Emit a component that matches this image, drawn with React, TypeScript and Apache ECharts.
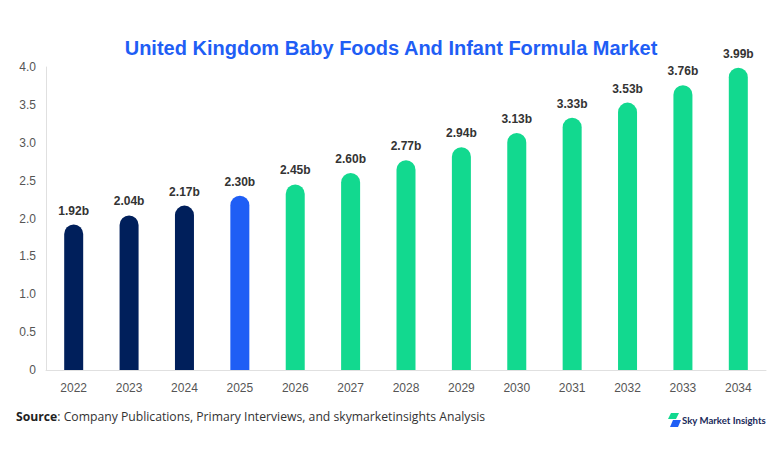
import React, { useEffect, useRef } from "react";
import * as echarts from "echarts";

const years = ["2022", "2023", "2024", "2025", "2026", "2027", "2028", "2029", "2030", "2031", "2032", "2033", "2034"];
const values = [1.92, 2.04, 2.17, 2.3, 2.45, 2.6, 2.77, 2.94, 3.13, 3.33, 3.53, 3.76, 3.99];
const barColors = ["#001f5b", "#001f5b", "#001f5b", "#1f5ef5", "#12d98f", "#12d98f", "#12d98f", "#12d98f", "#12d98f", "#12d98f", "#12d98f", "#12d98f", "#12d98f"];
const titleText = "United Kingdom Baby Foods And Infant Formula Market";
const sourceLabel = "Source";
const sourceText = ": Company Publications, Primary Interviews, and skymarketinsights Analysis";
const brandText = "Sky Market Insights";

export default function App() {
  const ref = useRef<HTMLDivElement>(null);
  useEffect(() => {
    if (!ref.current) return;
    const chart = echarts.init(ref.current, null, { renderer: "svg" });
    chart.setOption({
      animation: false,
      backgroundColor: "#ffffff",
      title: {
        text: titleText,
        left: "center",
        top: 33,
        textStyle: { fontFamily: "Arial, Liberation Sans, sans-serif", fontWeight: "bold", fontSize: 20, color: "#1f5ef5" },
      },
      grid: { left: 46, right: 16, top: 67, bottom: 84 },
      xAxis: {
        type: "category",
        data: years,
        axisLine: { lineStyle: { color: "#e0e0e0" } },
        axisTick: { show: false },
        axisLabel: { color: "#555", fontSize: 12, margin: 12, fontFamily: "Arial, Liberation Sans, sans-serif" },
      },
      yAxis: {
        type: "value",
        min: 0,
        max: 4,
        interval: 0.5,
        axisLine: { show: true, lineStyle: { color: "#e0e0e0" } },
        axisTick: { show: false },
        splitLine: { show: false },
        axisLabel: {
          color: "#555",
          fontSize: 12,
          margin: 10,
          fontFamily: "Arial, Liberation Sans, sans-serif",
          formatter: (v: number) => (v === 0 ? "0" : v.toFixed(1)),
        },
      },
      series: [
        {
          type: "bar",
          barWidth: 19,
          data: values.map((v, i) => ({ value: v, itemStyle: { color: barColors[i] } })),
          itemStyle: { borderRadius: [10, 10, 0, 0] },
          label: {
            show: true,
            position: "top",
            distance: 8,
            fontSize: 12,
            fontWeight: "bold",
            color: "#333",
            fontFamily: "Arial, Liberation Sans, sans-serif",
            formatter: (p: any) => p.value.toFixed(2) + "b",
          },
        },
      ],
      graphic: [
        {
          type: "text",
          left: 16,
          top: 410,
          style: {
            rich: {
              b: { fontWeight: "bold", fontSize: 12.2, fill: "#222", fontFamily: "Open Sans, Noto Sans, sans-serif" },
              n: { fontSize: 12.2, fill: "#333", fontFamily: "Open Sans, Noto Sans, sans-serif" },
            },
            text: "{b|" + sourceLabel + "}{n|" + sourceText + "}",
          },
        },
        {
          type: "polygon",
          shape: { points: [[671, 413], [679, 413], [676, 419], [668, 419]] },
          style: { fill: "#12d98f" },
        },
        {
          type: "polygon",
          shape: { points: [[673, 420], [681, 420], [678, 427], [670, 427]] },
          style: { fill: "#1f5ef5" },
        },
        {
          type: "text",
          left: 682,
          top: 415,
          style: {
            text: brandText,
            fontSize: 9.6,
            fontWeight: "bold",
            fill: "#1a2a5a",
            fontFamily: "Lato, Noto Sans, sans-serif",
          },
        },
      ],
    });
    return () => chart.dispose();
  }, []);
  return <div ref={ref} style={{ width: 782, height: 454, position: "fixed", left: 0, top: 0 }} />;
}
